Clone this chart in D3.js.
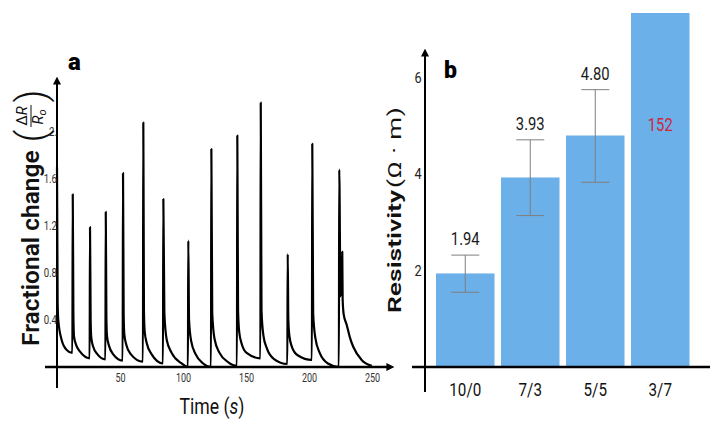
<!DOCTYPE html>
<html>
<head>
<meta charset="utf-8">
<script src="https://cdn.jsdelivr.net/npm/d3@7"></script>
<style>
  body { margin: 0; background: #fff; }
  svg text { font-family: Roboto, "Noto Sans", sans-serif; }
</style>
</head>
<body>
<div id="chart"></div>
<script>
// panel a: fractional change vs time (s)
const timeSec = [
  0, 0.5, 1, 3.7, 7.7, 12.2,
  12.5, 13, 13.5, 15.1, 18.3, 25.9,
  26.2, 26.7, 27.2, 28.8, 32, 38.4,
  38.7, 39.2, 39.7, 41.3, 44.5, 52.1,
  52.4, 52.9, 53.4, 55, 58.5, 68.2,
  68.5, 69, 69.6, 71.3, 75, 84.1,
  84.4, 85.2, 87.1, 91, 98.9, 103.9,
  104.2, 104.8, 106.5, 110, 116, 122.2,
  122.5, 123.2, 125, 129, 136, 142.8,
  143.1, 143.7, 144.6, 146.5, 150.5, 161.4,
  161.7, 162.3, 163.8, 166.5, 172, 182.8,
  183.1, 183.6, 184.5, 186.5, 191, 202.3,
  202.6, 203.3, 205, 208.5, 215, 223.7,
  224, 225, 226.4, 226.7, 227.5, 229.9, 232.5, 235.2, 241.8, 249.8
];
const fracChange = [
  1.7, 0.55, 0.4, 0.23, 0.145, 0.12,
  1.47, 0.45, 0.26, 0.19, 0.13, 0.074,
  1.19, 0.4, 0.25, 0.17, 0.11, 0.065,
  1.32, 0.42, 0.26, 0.18, 0.11, 0.054,
  1.65, 0.45, 0.28, 0.19, 0.11, 0.045,
  2.08, 0.48, 0.3, 0.2, 0.11, 0.03,
  1.43, 0.46, 0.23, 0.12, 0.03, 0,
  1.075, 0.4, 0.22, 0.11, 0.03, 0,
  1.855, 0.46, 0.24, 0.12, 0.04, 0.01,
  1.97, 0.48, 0.3, 0.2, 0.12, 0.074,
  2.25, 0.48, 0.27, 0.16, 0.07, 0.026,
  0.96, 0.4, 0.26, 0.17, 0.1, 0.06,
  1.9, 0.46, 0.25, 0.12, 0.03, 0,
  1.68, 0.6, 0.98, 0.58, 0.45, 0.36, 0.25, 0.17, 0.06, 0.01
];
const aTicksX = [50, 100, 150, 200, 250];
const aTicksY = [0.4, 0.8, 1.2, 1.6, 2.0];
const aTickLabelsY = ["0.4", "0.8", "1.2", "1.6", "2."];

// panel b: resistivity per ratio
const ratios = ["10/0", "7/3", "5/5", "3/7"];
const resistivity = [1.94, 3.93, 4.8, 152];
const errLow = [1.55, 3.14, 3.83, null];
const errHigh = [2.32, 4.71, 5.75, null];
const valueLabels = ["1.94", "3.93", "4.80", "152"];
const bTicksY = [2, 4, 6];

const svg = d3
  .select("#chart")
  .append("svg")
  .attr("width", 710)
  .attr("height", 423);

svg
  .append("defs")
  .append("marker")
  .attr("id", "arrow")
  .attr("viewBox", "0 0 10 10")
  .attr("refX", 2)
  .attr("refY", 5)
  .attr("markerWidth", 8)
  .attr("markerHeight", 8)
  .attr("markerUnits", "userSpaceOnUse")
  .attr("orient", "auto")
  .append("path")
  .attr("d", "M0,0L10,5L0,10z")
  .attr("fill", "#000");

// ---------- panel a ----------
const xA = d3.scaleLinear().domain([0, 250]).range([57, 372]);
const yA = d3.scaleLinear().domain([0, 2]).range([367, 132]);

const pts = timeSec.map((t, i) => [t, fracChange[i]]);
const line = d3
  .line()
  .x(d => xA(d[0]))
  .y(d => yA(d[1]))
  .curve(d3.curveMonotoneX);

svg
  .append("path")
  .datum(pts)
  .attr("d", line)
  .attr("fill", "none")
  .attr("stroke", "#000")
  .attr("stroke-width", 2.2)
  .attr("stroke-linejoin", "round");

// axes with arrows
svg
  .append("line")
  .attr("x1", xA(0) - 12)
  .attr("x2", xA(250) + 16)
  .attr("y1", yA(0))
  .attr("y2", yA(0))
  .attr("stroke", "#000")
  .attr("stroke-width", 2.6)
  .attr("marker-end", "url(#arrow)");
svg
  .append("line")
  .attr("x1", xA(0))
  .attr("x2", xA(0))
  .attr("y1", yA(0) + 21)
  .attr("y2", yA(2) - 49)
  .attr("stroke", "#000")
  .attr("stroke-width", 2)
  .attr("marker-end", "url(#arrow)");

const axA_y = svg
  .append("g")
  .attr("transform", `translate(${xA(0)},0)`)
  .call(
    d3
      .axisLeft(yA)
      .tickValues(aTicksY)
      .tickFormat((d, i) => aTickLabelsY[i])
      .tickSize(0)
      .tickPadding(0)
  );
axA_y.select(".domain").remove();
axA_y
  .selectAll("text")
  .attr("font-size", 12)
  .attr("fill", "#333")
  .attr("transform", "scale(0.8,1)");

const axA_x = svg
  .append("g")
  .attr("transform", `translate(0,${yA(0)})`)
  .call(d3.axisBottom(xA).tickValues(aTicksX).tickSize(0).tickPadding(6));
axA_x.select(".domain").remove();
axA_x
  .selectAll("text")
  .attr("font-size", 12)
  .attr("fill", "#333")
  .attr("transform", "scale(0.75,1)");

svg
  .append("text")
  .attr("transform", "translate(212,414) scale(0.8,1)")
  .attr("text-anchor", "middle")
  .attr("font-size", 22)
  .attr("fill", "#111")
  .call(t => {
    t.append("tspan").text("Time (");
    t.append("tspan").attr("font-style", "italic").text("s");
    t.append("tspan").text(")");
  });

// y label with fraction
const labA = svg.append("g").attr("transform", "translate(39,346) rotate(-90)");
labA
  .append("text")
  .attr("font-family", "'Open Sans', sans-serif")
  .attr("font-weight", 600)
  .attr("font-size", 24.5)
  .attr("fill", "#111")
  .text("Fractional change");
const frac = labA.append("g").attr("font-family", "'Liberation Serif', serif").attr("fill", "#111");
frac
  .append("text")
  .attr("x", 210)
  .attr("y", 6)
  .attr("text-anchor", "middle")
  .attr("font-size", 40)
  .attr("font-weight", 300)
  .text("(");
frac
  .append("text")
  .attr("x", 250)
  .attr("y", 6)
  .attr("text-anchor", "middle")
  .attr("font-size", 40)
  .attr("font-weight", 300)
  .text(")");
frac
  .append("text")
  .attr("x", 230)
  .attr("y", -12)
  .attr("text-anchor", "middle")
  .attr("font-size", 15)
  .call(t => {
    t.append("tspan").text("Δ");
    t.append("tspan").attr("font-style", "italic").text("R");
  });
frac
  .append("line")
  .attr("x1", 219)
  .attr("x2", 241)
  .attr("y1", -8)
  .attr("y2", -8)
  .attr("stroke", "#111")
  .attr("stroke-width", 1);
frac
  .append("text")
  .attr("x", 229)
  .attr("y", 4)
  .attr("text-anchor", "middle")
  .attr("font-size", 15)
  .attr("font-style", "italic")
  .call(t => {
    t.append("tspan").text("R");
    t.append("tspan").attr("font-size", 11).attr("dy", 3).text("o");
  });

svg
  .append("text")
  .attr("x", 68)
  .attr("y", 70)
  .attr("font-size", 24)
  .attr("font-weight", 900)
  .text("a");

// ---------- panel b ----------
const xB = d3
  .scaleBand()
  .domain(ratios)
  .range([432.75, 692.75])
  .paddingInner(0.1)
  .paddingOuter(0.05);
const yB = d3.scaleLinear().domain([0, 7.34]).range([367, 13]).clamp(true);

svg
  .append("g")
  .selectAll("rect")
  .data(ratios)
  .enter()
  .append("rect")
  .attr("x", d => xB(d))
  .attr("width", xB.bandwidth())
  .attr("y", (d, i) => yB(resistivity[i]))
  .attr("height", (d, i) => yB(0) - yB(resistivity[i]))
  .attr("fill", "#6bb0e8");

// error bars
const errs = ratios
  .map((d, i) => ({ c: xB(d) + xB.bandwidth() / 2, lo: errLow[i], hi: errHigh[i] }))
  .filter(e => e.lo !== null);
const eg = svg.append("g").attr("stroke", "#7f7f7f").attr("stroke-width", 1);
errs.forEach(e => {
  eg.append("line").attr("x1", e.c).attr("x2", e.c).attr("y1", yB(e.lo)).attr("y2", yB(e.hi));
  [e.lo, e.hi].forEach(v =>
    eg.append("line").attr("x1", e.c - 14).attr("x2", e.c + 14).attr("y1", yB(v)).attr("y2", yB(v))
  );
});

// value labels
svg
  .append("g")
  .selectAll("text")
  .data(ratios)
  .enter()
  .append("text")
  .attr("transform", (d, i) => {
    const x = xB(d) + xB.bandwidth() / 2;
    const y = errHigh[i] !== null ? yB(errHigh[i]) - 10 : 131;
    return `translate(${x},${y}) scale(0.8,1)`;
  })
  .attr("text-anchor", "middle")
  .attr("font-size", 18.5)
  .attr("fill", (d, i) => (errHigh[i] !== null ? "#1a1a1a" : "#d0263a"))
  .text((d, i) => valueLabels[i]);

// axes
svg
  .append("line")
  .attr("x1", 412)
  .attr("x2", 710)
  .attr("y1", yB(0))
  .attr("y2", yB(0))
  .attr("stroke", "#000")
  .attr("stroke-width", 2.6);
svg
  .append("line")
  .attr("x1", 425)
  .attr("x2", 425)
  .attr("y1", yB(0) + 25)
  .attr("y2", 55)
  .attr("stroke", "#000")
  .attr("stroke-width", 2)
  .attr("marker-end", "url(#arrow)");

const axB_y = svg
  .append("g")
  .attr("transform", "translate(425,0)")
  .call(d3.axisLeft(yB).tickValues(bTicksY).tickSize(0).tickPadding(4));
axB_y.select(".domain").remove();
axB_y
  .selectAll("text")
  .attr("font-size", 15)
  .attr("fill", "#222")
  .attr("transform", "scale(0.85,1)");

const axB_x = svg
  .append("g")
  .attr("transform", `translate(0,${yB(0)})`)
  .call(d3.axisBottom(xB).tickSize(0).tickPadding(16));
axB_x.select(".domain").remove();
axB_x
  .selectAll("text")
  .attr("font-size", 19)
  .attr("fill", "#111")
  .attr("transform", "scale(0.8,1)");

// y label b: condensed sans word + serif unit
const labB = svg.append("g").attr("transform", "translate(401,313) rotate(-90)");
labB
  .append("text")
  .attr("transform", "scale(1,0.72)")
  .attr("font-family", "'Open Sans', sans-serif")
  .attr("font-weight", 600)
  .attr("font-size", 26.5)
  .attr("fill", "#111")
  .text("Resistivity");
labB
  .append("text")
  .attr("transform", "translate(125,0) scale(1,0.7)")
  .attr("font-family", "'Liberation Serif', serif")
  .attr("font-size", 26)
  .attr("letter-spacing", 0.5)
  .attr("fill", "#111")
  .text("(Ω · m)");

svg
  .append("text")
  .attr("x", 444)
  .attr("y", 78)
  .attr("font-size", 23)
  .attr("font-weight", 900)
  .text("b");
</script>
</body>
</html>
